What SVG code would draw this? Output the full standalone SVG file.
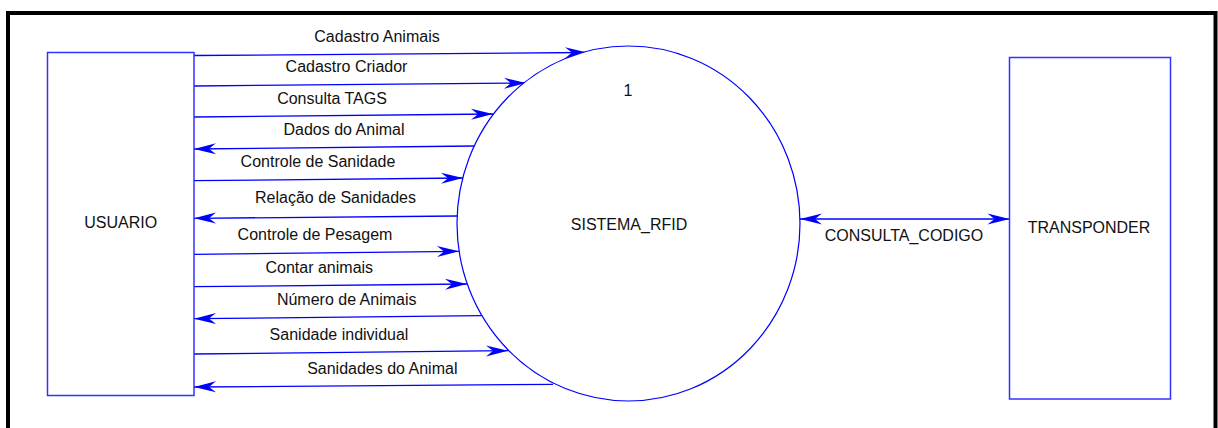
<svg xmlns="http://www.w3.org/2000/svg" width="1218" height="428" viewBox="0 0 1218 428">
  <style>
    .frame { fill: none; stroke: #000; stroke-width: 4; }
    .entity { fill: #fff; stroke: #3333ff; stroke-width: 1.5; }
    .process { fill: #fff; stroke: #0000ff; stroke-width: 1.2; }
    .flow { fill: none; stroke: #0000ff; stroke-width: 1.3; }
    text { font-family: "Liberation Sans", Arial, sans-serif; font-size: 16px; fill: #111; text-anchor: middle; }
  </style>
  <defs>
    <marker id="arrow" markerUnits="userSpaceOnUse" markerWidth="24" markerHeight="14" viewBox="-23 -7 24 14" refX="0" refY="0" orient="auto-start-reverse">
      <path d="M0,0 L-22,-5.5 L-15,0 L-22,5.5 Z" fill="#0000ff"/>
    </marker>
  </defs>

  <rect x="0" y="0" width="1218" height="428" fill="#fff"/>
  <!-- page frame (runs past the bottom edge) -->
  <rect class="frame" x="8" y="13" width="1207.5" height="440"/>

  <!-- data flows -->
  <g id="connectors">
    <path class="flow" d="M194,55.5 L587,52.5" marker-end="url(#arrow)"/>
    <path class="flow" d="M194,86 L526,83" marker-end="url(#arrow)"/>
    <path class="flow" d="M194,117 L493,114" marker-end="url(#arrow)"/>
    <path class="flow" d="M475,146 L194,149" marker-end="url(#arrow)"/>
    <path class="flow" d="M194,180.7 L463,178" marker-end="url(#arrow)"/>
    <path class="flow" d="M458,216 L194,218.3" marker-end="url(#arrow)"/>
    <path class="flow" d="M194,254.3 L459,251.3" marker-end="url(#arrow)"/>
    <path class="flow" d="M194,286.7 L467,284" marker-end="url(#arrow)"/>
    <path class="flow" d="M481.7,315.7 L194,318.7" marker-end="url(#arrow)"/>
    <path class="flow" d="M194,354 L508,350.7" marker-end="url(#arrow)"/>
    <path class="flow" d="M553,384.3 L194,387" marker-end="url(#arrow)"/>
    <path class="flow" d="M800,219 L1009.5,219" marker-start="url(#arrow)" marker-end="url(#arrow)"/>

    <text x="377" y="41.7">Cadastro Animais</text>
    <text x="346.5" y="72.3">Cadastro Criador</text>
    <text x="332" y="104">Consulta TAGS</text>
    <text x="344" y="135">Dados do Animal</text>
    <text x="318" y="166.5">Controle de Sanidade</text>
    <text x="335.5" y="203">Relação de Sanidades</text>
    <text x="315" y="240">Controle de Pesagem</text>
    <text x="319.3" y="272.5">Contar animais</text>
    <text x="346.7" y="304.5">Número de Animais</text>
    <text x="339" y="339.5">Sanidade individual</text>
    <text x="382.3" y="374">Sanidades do Animal</text>
    <text x="904" y="240.5">CONSULTA_CODIGO</text>
  </g>

  <g id="usuario">
    <rect class="entity" x="47.5" y="52.5" width="146.5" height="343"/>
    <text x="120.7" y="228">USUARIO</text>
  </g>

  <g id="sistema_rfid">
    <ellipse class="process" cx="628.5" cy="223.5" rx="171.5" ry="177.5"/>
    <text x="628" y="95.5">1</text>
    <text x="629" y="230">SISTEMA_RFID</text>
  </g>

  <g id="transponder">
    <rect class="entity" x="1009.5" y="57.5" width="161" height="341.5"/>
    <text x="1089" y="232.5">TRANSPONDER</text>
  </g>
</svg>
